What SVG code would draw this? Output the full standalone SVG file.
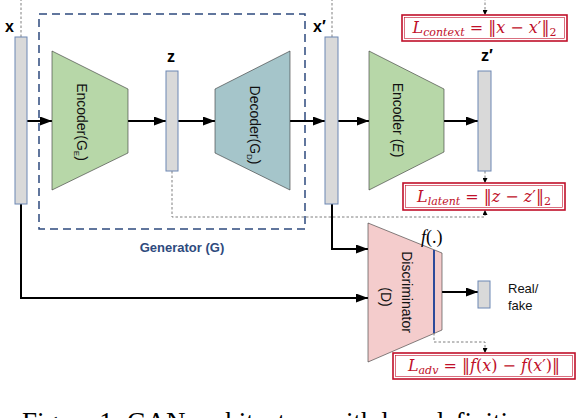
<svg xmlns="http://www.w3.org/2000/svg" width="576" height="418" viewBox="0 0 576 418">
<style>
.bar{fill:#d9d9d9;stroke:#6d87b4;stroke-width:1}
.trap{stroke:#333;stroke-width:0.6}
.enc{fill:#b7d7a8}
.dec{fill:#a5c5ca}
.dis{fill:#f4cccc}
.lbl{font-family:"Liberation Sans",Arial,sans-serif;font-size:16px;font-weight:bold;fill:#000}
.rot{font-family:"Liberation Sans",Arial,sans-serif;font-size:14px;fill:#111}
.sub{font-size:8px}
.conn{fill:none;stroke:#000;stroke-width:2}
.dot{fill:none;stroke:#7f7f7f;stroke-width:1;stroke-dasharray:2.5 2}
.loss{fill:#fff;stroke:#c0102a;stroke-width:1.6}
.lossin{fill:none;stroke:#c0102a;stroke-width:0.6}
.math{font-family:"DejaVu Serif","Liberation Serif",serif;font-size:16px;fill:#c0102a}
.it{font-style:italic}
.ms{font-size:11px;font-style:italic}
</style>
<defs>
<marker id="ah" markerUnits="userSpaceOnUse" markerWidth="12" markerHeight="9" refX="12" refY="4.5" orient="auto"><path d="M0,0 L12,4.5 L0,9 z" fill="#000"/></marker>
<marker id="sa" markerUnits="userSpaceOnUse" markerWidth="5" markerHeight="5" refX="5" refY="2.5" orient="auto"><path d="M0,0 L5,2.5 L0,5 z" fill="#000"/></marker>
</defs>

<g id="connectors">
<path class="conn" d="M27,121 H52" marker-end="url(#ah)"/>
<path class="conn" d="M128,121 H166" marker-end="url(#ah)"/>
<path class="conn" d="M178,121 H215" marker-end="url(#ah)"/>
<path class="conn" d="M290,121 H325" marker-end="url(#ah)"/>
<path class="conn" d="M338,121 H369" marker-end="url(#ah)"/>
<path class="conn" d="M444,121 H478" marker-end="url(#ah)"/>
<path class="conn" d="M332,204 V249 H368" marker-end="url(#ah)"/>
<path class="conn" d="M21,204 V298 H368" marker-end="url(#ah)"/>
<path class="conn" d="M442,292 H478" marker-end="url(#ah)"/>
<path class="dot" d="M21,37 V-2"/>
<path class="dot" d="M332,37 V-2"/>
<path class="dot" d="M485,-2 V15" marker-end="url(#sa)"/>
<path class="dot" d="M172,171 V217 H485 V210" marker-end="url(#sa)"/>
<path class="dot" d="M485,171 V183" marker-end="url(#sa)"/>
<path class="dot" d="M434,333 V342 H485 V353" marker-end="url(#sa)"/>
</g>

<g id="generator">
<rect x="39" y="14" width="266" height="215" fill="none" stroke="#2e4a7d" stroke-width="1.5" stroke-dasharray="8 5"/>
<text x="182" y="252" text-anchor="middle" font-family="Liberation Sans,Arial,sans-serif" font-size="13" font-weight="bold" fill="#2e4a7d">Generator (G)</text>
</g>

<g id="x">
<rect class="bar" x="15" y="37" width="12" height="167"/>
<text class="lbl" x="5" y="32">x</text>
</g>

<g id="encoderGE">
<polygon class="trap enc" points="52,51 128,89 128,153 52,190"/>
<text class="rot" transform="translate(77,122) rotate(90)" text-anchor="middle">Encoder(G<tspan class="sub" dy="3">E</tspan><tspan dy="-3">)</tspan></text>
</g>

<g id="z">
<rect class="bar" x="166" y="71" width="12" height="100"/>
<text class="lbl" x="167" y="62">z</text>
</g>

<g id="decoderGD">
<polygon class="trap dec" points="215,89 290,51 290,190 215,153"/>
<text class="rot" transform="translate(250,125) rotate(90)" text-anchor="middle">Decoder(G<tspan class="sub" dy="3">D</tspan><tspan dy="-3">)</tspan></text>
</g>

<g id="xprime">
<rect class="bar" x="325" y="37" width="13" height="167"/>
<text class="lbl" x="313" y="32">x′</text>
</g>

<g id="encoderE">
<polygon class="trap enc" points="369,51 444,89 444,152 369,190"/>
<text class="rot" transform="translate(393,120) rotate(90)" text-anchor="middle">Encoder (<tspan font-style="italic">E</tspan>)</text>
</g>

<g id="zprime">
<rect class="bar" x="478" y="71" width="13" height="100"/>
<text class="lbl" x="481" y="61">z′</text>
</g>

<g id="discriminator">
<polygon class="trap dis" points="368,223 442,253 442,330 368,362"/>
<line x1="434" y1="250" x2="434" y2="333" stroke="#2e4a9a" stroke-width="2"/>
<text class="rot" transform="translate(402,292) rotate(90)" text-anchor="middle">Discriminator</text>
<text class="rot" transform="translate(381,297) rotate(90)" text-anchor="middle">(D)</text>
<text x="421" y="243" font-family="Liberation Serif,serif" font-size="18" fill="#000"><tspan font-style="italic">f</tspan>(.)</text>
</g>

<g id="output">
<rect class="bar" x="478" y="281" width="12" height="27"/>
<text x="508" y="293" font-family="Liberation Sans,Arial,sans-serif" font-size="13" fill="#111">Real/</text>
<text x="508" y="310" font-family="Liberation Sans,Arial,sans-serif" font-size="13" fill="#111">fake</text>
</g>

<g id="Lcontext">
<rect class="loss" x="402" y="15" width="165" height="26"/>
<rect class="lossin" x="404.5" y="17.5" width="160" height="21"/>
<text class="math" x="484.5" y="33" text-anchor="middle"><tspan class="it">L</tspan><tspan class="ms" dy="3">context</tspan><tspan dy="-3"> = ‖</tspan><tspan class="it">x</tspan> − <tspan class="it">x</tspan>′‖<tspan font-size="11" dy="3">2</tspan></text>
</g>

<g id="Llatent">
<rect class="loss" x="403" y="183" width="162" height="27"/>
<rect class="lossin" x="405.5" y="185.5" width="157" height="22"/>
<text class="math" x="484" y="201.5" text-anchor="middle"><tspan class="it">L</tspan><tspan class="ms" dy="3">latent</tspan><tspan dy="-3"> = ‖</tspan><tspan class="it">z</tspan> − <tspan class="it">z</tspan>′‖<tspan font-size="11" dy="3">2</tspan></text>
</g>

<g id="Ladv">
<rect class="loss" x="393" y="353" width="182" height="26"/>
<rect class="lossin" x="395.5" y="355.5" width="177" height="21"/>
<text class="math" x="484" y="371" text-anchor="middle"><tspan class="it">L</tspan><tspan class="ms" dy="3">adv</tspan><tspan dy="-3"> = ‖</tspan><tspan class="it">f</tspan>(<tspan class="it">x</tspan>) − <tspan class="it">f</tspan>(<tspan class="it">x</tspan>′)‖</text>
</g>

<text x="22" y="431" font-family="Liberation Serif,serif" font-size="27" fill="#000">Figure 1: GAN architecture with loss definitions</text>
</svg>
